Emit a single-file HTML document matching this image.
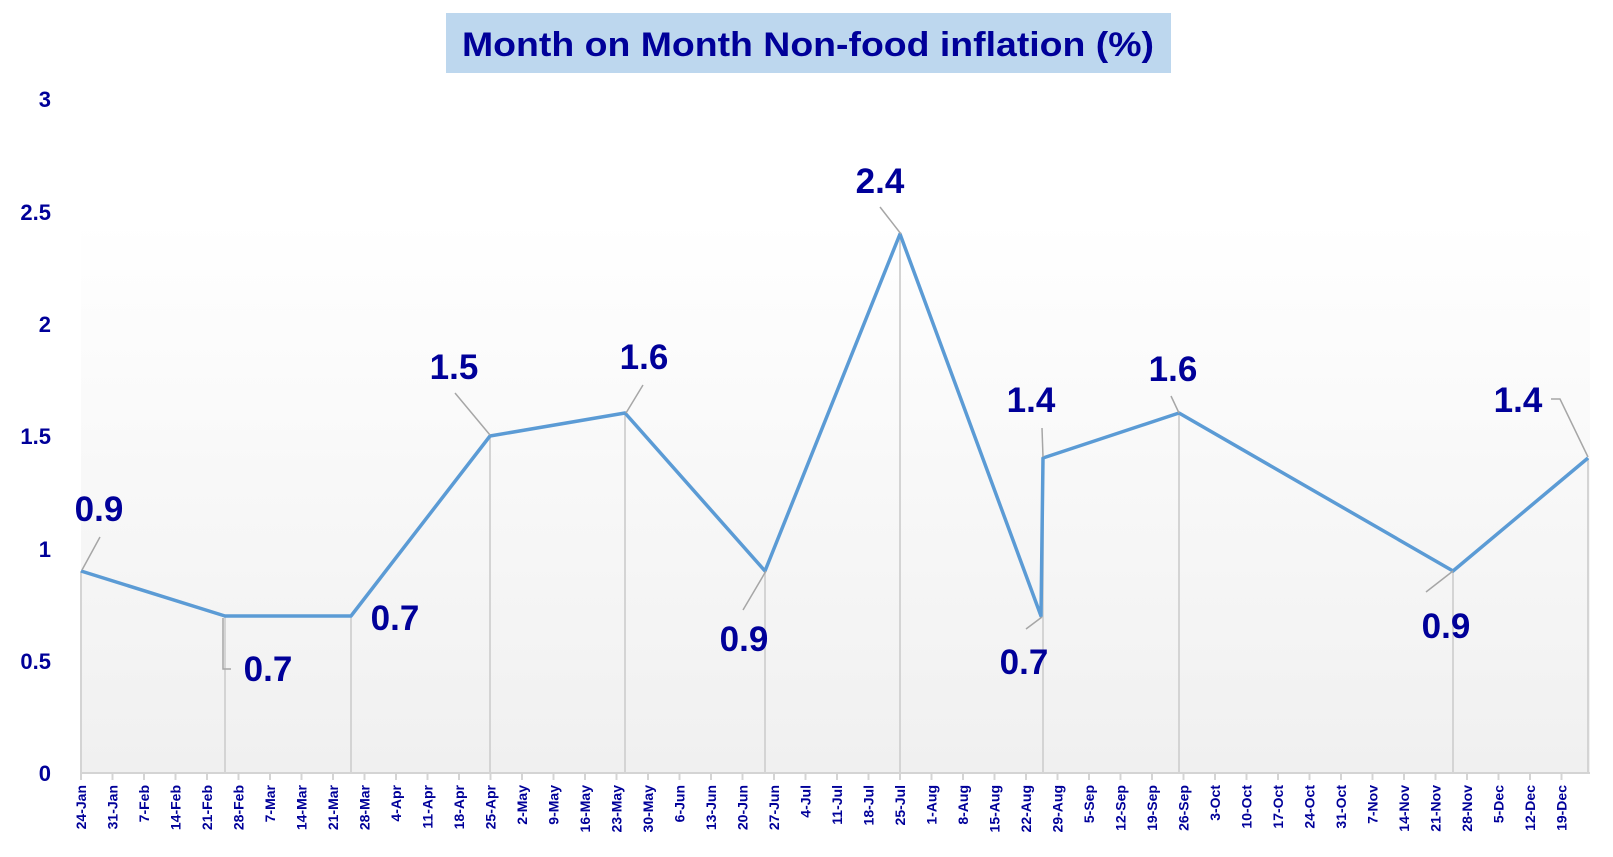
<!DOCTYPE html>
<html><head><meta charset="utf-8"><style>
html,body{margin:0;padding:0;background:#fff;}
svg{display:block;font-family:"Liberation Sans",sans-serif;font-weight:bold;}
</style></head><body>
<svg width="1613" height="857" viewBox="0 0 1613 857">
<defs>
<linearGradient id="bg" x1="0" y1="0" x2="0" y2="1">
<stop offset="0" stop-color="#ffffff"/><stop offset="1" stop-color="#f0f0f0"/>
</linearGradient>
</defs>
<rect x="81" y="220" width="1509" height="553" fill="url(#bg)"/>
<rect x="446" y="13" width="725" height="60" fill="#bdd7ee"/>
<text x="808" y="56" text-anchor="middle" font-size="34" fill="#000099" textLength="692" lengthAdjust="spacingAndGlyphs">Month on Month Non-food inflation (%)</text>
<g font-size="22" fill="#000099" text-anchor="end">
<text x="51" y="107">3</text>
<text x="51" y="220">2.5</text>
<text x="51" y="332">2</text>
<text x="51" y="444">1.5</text>
<text x="51" y="557">1</text>
<text x="51" y="669">0.5</text>
<text x="51" y="781">0</text>
</g>
<g stroke="#d4d4d4" stroke-width="2">
<line x1="81" y1="773" x2="1590" y2="773"/>
<line x1="81" y1="571" x2="81" y2="773"/>
<line x1="225" y1="616" x2="225" y2="773"/>
<line x1="351" y1="616" x2="351" y2="773"/>
<line x1="490" y1="436" x2="490" y2="773"/>
<line x1="625" y1="413" x2="625" y2="773"/>
<line x1="765" y1="571" x2="765" y2="773"/>
<line x1="900" y1="234" x2="900" y2="773"/>
<line x1="1043" y1="458" x2="1043" y2="773"/>
<line x1="1179" y1="413" x2="1179" y2="773"/>
<line x1="1453" y1="571" x2="1453" y2="773"/>
<line x1="1588" y1="458" x2="1588" y2="773"/>
</g>
<g id="ticks" stroke="#d4d4d4" stroke-width="2"></g>
<g id="xl" font-size="14" fill="#000099"></g>
<polyline fill="none" stroke="#5b9bd5" stroke-width="3.5" stroke-linejoin="round" points="81,571 225,616 351,616 490,436 625,413 765,571 900,234 1041,616 1043,458 1179,413 1453,571 1588,458"/>
<g stroke="#a6a6a6" stroke-width="1.5" fill="none">
<polyline points="82,570 100,537"/>
<polyline points="223,618 223,669 231,669"/>
<polyline points="490,435 455,393"/>
<polyline points="626,413 643,385"/>
<polyline points="766,571 743,610"/>
<polyline points="901,234 880,207"/>
<polyline points="1042,617 1026,629"/>
<polyline points="1043,457 1042,428"/>
<polyline points="1179,413 1171,396"/>
<polyline points="1453,571 1426,592"/>
<polyline points="1588,457 1560,399 1551,399"/>
</g>
<g font-size="35" fill="#000099" text-anchor="middle">
<text x="99" y="521">0.9</text>
<text x="268" y="681">0.7</text>
<text x="395" y="630">0.7</text>
<text x="454" y="379">1.5</text>
<text x="644" y="369">1.6</text>
<text x="744" y="651">0.9</text>
<text x="880" y="193">2.4</text>
<text x="1024" y="674">0.7</text>
<text x="1031" y="412">1.4</text>
<text x="1173" y="381">1.6</text>
<text x="1446" y="638">0.9</text>
<text x="1518" y="412">1.4</text>
</g>
</svg>
<script>
var m=["Jan","Feb","Mar","Apr","May","Jun","Jul","Aug","Sep","Oct","Nov","Dec"];
var dim=[31,28,31,30,31,30,31,31,30,31,30,31];
var mo=0,d=24,t="",tk="";
for(var i=0;i<48;i++){
 var x=81+i*31.5;
 tk+='<line x1="'+x+'" y1="773" x2="'+x+'" y2="780"/>';
 t+='<text transform="translate('+(x+5)+',785) rotate(-90)" text-anchor="end">'+d+'-'+m[mo]+'</text>';
 d+=7; if(d>dim[mo]){d-=dim[mo];mo++;}
}
document.getElementById("ticks").innerHTML=tk;
document.getElementById("xl").innerHTML=t;
</script>
</body></html>
